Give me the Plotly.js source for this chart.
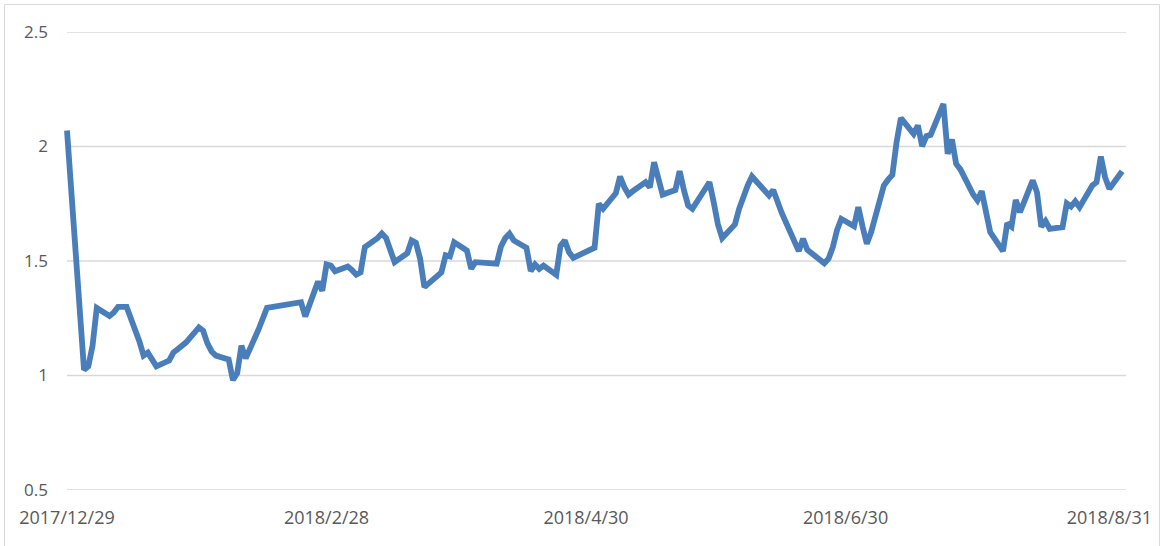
<!DOCTYPE html>
<html>
<head>
<meta charset="utf-8">
<script src="https://cdn.plot.ly/plotly-3.0.1.min.js"></script>
<style>
  html, body { margin: 0; padding: 0; background: #ffffff; }
  #chart { width: 1164px; height: 546px; }
</style>
</head>
<body>
<div id="chart"></div>
<script>
const dates = [
  '2017-12-29',
  '2018-01-02','2018-01-03','2018-01-04','2018-01-05',
  '2018-01-08','2018-01-09','2018-01-10','2018-01-11','2018-01-12',
  '2018-01-15','2018-01-16','2018-01-17','2018-01-18','2018-01-19',
  '2018-01-22','2018-01-23','2018-01-24','2018-01-25','2018-01-26',
  '2018-01-29','2018-01-30','2018-01-31','2018-02-01','2018-02-02',
  '2018-02-05','2018-02-06','2018-02-07','2018-02-08','2018-02-09',
  '2018-02-12','2018-02-13','2018-02-14',
  '2018-02-22','2018-02-23',
  '2018-02-26','2018-02-27','2018-02-28','2018-03-01','2018-03-02',
  '2018-03-05','2018-03-06','2018-03-07','2018-03-08','2018-03-09',
  '2018-03-12','2018-03-13','2018-03-14','2018-03-15','2018-03-16',
  '2018-03-19','2018-03-20','2018-03-21','2018-03-22','2018-03-23',
  '2018-03-26','2018-03-27','2018-03-28','2018-03-29','2018-03-30',
  '2018-04-02','2018-04-03','2018-04-04',
  '2018-04-09','2018-04-10','2018-04-11','2018-04-12','2018-04-13',
  '2018-04-16','2018-04-17','2018-04-18','2018-04-19','2018-04-20',
  '2018-04-23','2018-04-24','2018-04-25','2018-04-26','2018-04-27',
  '2018-05-02','2018-05-03','2018-05-04',
  '2018-05-07','2018-05-08','2018-05-09','2018-05-10','2018-05-11',
  '2018-05-14','2018-05-15','2018-05-16','2018-05-17','2018-05-18',
  '2018-05-21','2018-05-22','2018-05-23','2018-05-24','2018-05-25',
  '2018-05-28','2018-05-29','2018-05-30','2018-05-31','2018-06-01',
  '2018-06-04','2018-06-05','2018-06-06','2018-06-07','2018-06-08',
  '2018-06-11','2018-06-12','2018-06-13','2018-06-14','2018-06-15',
  '2018-06-19','2018-06-20','2018-06-21','2018-06-22',
  '2018-06-25','2018-06-26','2018-06-27','2018-06-28','2018-06-29',
  '2018-07-02','2018-07-03','2018-07-04','2018-07-05','2018-07-06',
  '2018-07-09','2018-07-10','2018-07-11','2018-07-12','2018-07-13',
  '2018-07-16','2018-07-17','2018-07-18','2018-07-19','2018-07-20',
  '2018-07-23','2018-07-24','2018-07-25','2018-07-26','2018-07-27',
  '2018-07-30','2018-07-31','2018-08-01','2018-08-02','2018-08-03',
  '2018-08-06','2018-08-07','2018-08-08','2018-08-09','2018-08-10',
  '2018-08-13','2018-08-14','2018-08-15','2018-08-16','2018-08-17',
  '2018-08-20','2018-08-21','2018-08-22','2018-08-23','2018-08-24',
  '2018-08-27','2018-08-28','2018-08-29','2018-08-30','2018-08-31',
  '2018-09-03'
];
const values = [
  2.07,
  1.025, 1.04, 1.13, 1.295,
  1.26, 1.275, 1.30, 1.30, 1.30,
  1.15, 1.087, 1.10, 1.07, 1.04,
  1.065, 1.10, 1.115, 1.13, 1.145,
  1.21, 1.195, 1.14, 1.105, 1.087,
  1.07, 0.98, 1.01, 1.13, 1.075,
  1.20, 1.25, 1.295,
  1.32, 1.258,
  1.41, 1.37, 1.485, 1.48, 1.455,
  1.476, 1.46, 1.44, 1.45, 1.56,
  1.60, 1.62, 1.60, 1.55, 1.495,
  1.534, 1.59, 1.58, 1.51, 1.386,
  1.435, 1.45, 1.525, 1.52, 1.582,
  1.546, 1.466, 1.495,
  1.488, 1.563, 1.60, 1.619, 1.59,
  1.558, 1.456, 1.485, 1.466, 1.48,
  1.44, 1.567, 1.59, 1.538, 1.514,
  1.558, 1.75, 1.728,
  1.796, 1.869, 1.822, 1.79, 1.805,
  1.844, 1.822, 1.931, 1.86, 1.79,
  1.81, 1.892, 1.81, 1.742, 1.728,
  1.82, 1.844, 1.757, 1.66, 1.60,
  1.66, 1.729, 1.789, 1.83, 1.869,
  1.80, 1.786, 1.81, 1.758, 1.71,
  1.543, 1.597, 1.549, 1.534,
  1.49, 1.51, 1.56, 1.635, 1.684,
  1.652, 1.735, 1.65, 1.575, 1.625,
  1.83, 1.855, 1.876, 2.02, 2.124,
  2.055, 2.092, 2.001, 2.045, 2.051,
  2.186, 1.968, 2.031, 1.924, 1.90,
  1.79, 1.765, 1.805, 1.70, 1.626,
  1.543, 1.665, 1.65, 1.767, 1.713,
  1.852, 1.80, 1.65, 1.674, 1.64,
  1.648, 1.752, 1.738, 1.761, 1.735,
  1.83, 1.844, 1.956, 1.866, 1.815,
  1.892
];
const xTickVals = ['2017-12-29','2018-02-28','2018-04-30','2018-06-30','2018-08-31'];
const xTickText = ['2017/12/29','2018/2/28','2018/4/30','2018/6/30','2018/8/31'];
const yTickVals = [0.5, 1, 1.5, 2, 2.5];
const yTickText = ['0.5', '1', '1.5', '2', '2.5'];

const axisStart = '2017-12-29';
const axisEnd = '2018-09-03 22:00';

const trace = {
  x: dates,
  y: values,
  type: 'scatter',
  mode: 'lines',
  line: { color: '#4a7ebb', width: 5.8, shape: 'linear' },
  hoverinfo: 'skip',
  showlegend: false
};

// horizontal gridlines drawn as shapes so the plot area can extend a little
// to the left (keeps the first point's line cap from being clipped)
const gridShapes = yTickVals.map(v => ({
  type: 'line', xref: 'x', yref: 'y',
  x0: axisStart, x1: axisEnd, y0: v, y1: v,
  line: { color: '#d9d9d9', width: 1.3 },
  layer: 'below'
}));

const layout = {
  width: 1164,
  height: 546,
  margin: { l: 62, r: 38, t: 32, b: 56, pad: 0 },
  paper_bgcolor: '#ffffff',
  plot_bgcolor: '#ffffff',
  font: { family: '"Open Sans", "Noto Sans", sans-serif', color: '#595959' },
  xaxis: {
    type: 'date',
    range: ['2017-12-27 19:48', axisEnd],
    tickmode: 'array',
    tickvals: xTickVals,
    ticktext: xTickText,
    showgrid: false,
    zeroline: false,
    showline: false,
    ticks: '',
    ticklabelstandoff: 15,
    tickfont: { size: 18, color: '#595959' }
  },
  yaxis: {
    range: [0.5, 2.5],
    tickmode: 'array',
    tickvals: yTickVals,
    ticktext: yTickText,
    showgrid: false,
    zeroline: false,
    showline: false,
    ticks: '',
    ticklabelstandoff: 13,
    tickfont: { size: 17, color: '#595959' }
  },
  shapes: gridShapes.concat([{
    type: 'rect',
    xref: 'paper', yref: 'paper',
    x0: (4.5 - 62) / 1064, x1: (1159.5 - 62) / 1064,
    y0: (490 - 560) / 458, y1: (490 - 4.5) / 458,
    line: { color: '#d9d9d9', width: 1 },
    fillcolor: 'rgba(0,0,0,0)',
    layer: 'below'
  }])
};

Plotly.newPlot('chart', [trace], layout, { displayModeBar: false, staticPlot: true });
</script>
</body>
</html>
